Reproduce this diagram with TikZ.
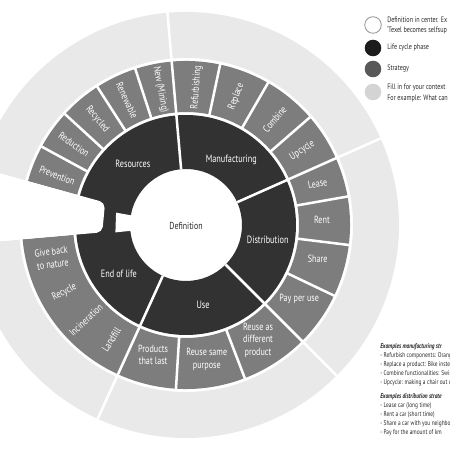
\documentclass[tikz,border=0pt]{standalone}
\usepackage{fontspec}
\setmainfont{PT Sans}[FakeStretch=0.78]
\usetikzlibrary{positioning}
\definecolor{WheelDark}{RGB}{50,50,50}
\definecolor{WheelMid}{RGB}{125,125,125}
\definecolor{WheelLight}{RGB}{233,233,233}
\definecolor{WheelText}{RGB}{40,40,40}
\definecolor{KeyRim}{RGB}{150,150,150}
\definecolor{KeyDark}{RGB}{28,28,28}
\definecolor{KeyMid}{RGB}{88,88,88}
\definecolor{KeyLight}{RGB}{212,212,212}
% annular sector: start angle, end angle, inner radius, outer radius, style
\newcommand{\ringsector}[5]{%
  \fill[#5] (#1:#3) arc[start angle=#1,end angle=#2,radius=#3]
    -- (#2:#4) arc[start angle=#2,end angle=#1,radius=#4] -- cycle;}
\tikzset{
  wheel/cut/.style={draw=white,line width=1.8pt},
  wheel/phase/.style={inner sep=0pt,text=white,align=center,
    font=\fontsize{7.5}{9.2}\selectfont},
  wheel/strategy/.style={inner sep=0pt,text=white,align=center,
    font=\fontsize{7.4}{9.2}\selectfont},
  wheel/center/.style={inner sep=0pt,text=WheelText,font=\fontsize{7.2}{9}\selectfont},
  key/dot/.style={circle,minimum size=16.6*0.709pt,inner sep=0pt},
  key/text/.style={inner sep=0pt,anchor=west,align=left,text=WheelText,
    font=\fontsize{5.6}{7.8}\selectfont},
  key/examples/.style={inner sep=0pt,anchor=north west,align=left,text=WheelText,
    font=\fontsize{4.9}{6.4}\selectfont}
}

\begin{document}
\begin{tikzpicture}[x=0.25mm,y=0.25mm]
  \path[use as bounding box] (0,0) rectangle (450,450);
  \clip (0,0) rectangle (450,450);

  \begin{scope}[shift={(186,225)}]
    % rings
    \ringsector{-175}{164.5}{167}{213}{WheelLight}
    \ringsector{-175}{164.5}{113}{164}{WheelMid}
    \ringsector{0}{360}{56}{110}{WheelDark}
    % gap between end of life and resources
    \fill[white,rounded corners=4] (164.5:84) -- (164.5:230) -- (185:230) -- (185:84) -- cycle;
    \fill[white] (170:50) -- (170:71) -- (186:71) -- (186:50) -- cycle;
    % phase dividers
    \foreach \a in {95,24,-45,-114.5}
      \draw[wheel/cut] (\a:56) -- (\a:213);
    % strategy dividers
    \foreach \a in {151.5,137.5,122.7,108,78,60,41,10,-7,-25.5,-69,-93.5}
      \draw[wheel/cut] (\a:112) -- (\a:165);

    \node[wheel/center] (definition) at (0,-1) {Definition};

    \node[wheel/phase] (resources) at (131:81) {Resources};
    \node[wheel/phase] (manufacturing) at (55:79) {Manufacturing};
    \node[wheel/phase] (distribution) at (-10:83) {Distribution};
    \node[wheel/phase] (use) at (-78:82) {Use};
    \node[wheel/phase] (endoflife) at (216:83) {End of life};

    % resources strategies
    \foreach \txt/\a [count=\i] in {Prevention/159,Reduction/144.3,Recycled/130,
        Renewable/115.3,{New (Mining)}/100.7}
      \node[wheel/strategy,rotate=\a-180] (res\i) at (\a:138) {\txt};
    % manufacturing strategies
    \foreach \txt/\a [count=\i] in {Refurbishing/85.6,Replace/68.6,Combine/50,Upcycle/32.6}
      \node[wheel/strategy,rotate=\a] (man\i) at (\a:138) {\txt};
    % distribution strategies
    \node[wheel/strategy,rotate=10] (lease) at (17.5:138) {Lease};
    \node[wheel/strategy] (rent) at (2:136) {Rent};
    \node[wheel/strategy] (share) at (-14.5:136) {Share};
    \node[wheel/strategy] (payperuse) at (-33:135) {Pay per use};
    % use strategies
    \node[wheel/strategy] (reusediff) at (-58:136) {Reuse as\\different\\product};
    \node[wheel/strategy] (reusesame) at (-81.2:136) {Reuse same\\purpose};
    \node[wheel/strategy] (lasting) at (-104.2:134) {Products\\that last};
    % end of life strategies
    \node[wheel/strategy,rotate=8] (giveback) at (193.8:138) {Give back\\to nature};
    \node[wheel/strategy,rotate=27] (recycle) at (209:139) {Recycle};
    \node[wheel/strategy,rotate=43] (incineration) at (223.5:138) {Incineration};
    \node[wheel/strategy,rotate=57] (landfill) at (237:137) {Landfill};
  \end{scope}

  % legend
  \node[key/dot,draw=KeyRim,line width=0.6pt,fill=white] (key1) at (373,425) {};
  \node[key/dot,fill=KeyDark] (key2) at (373,402) {};
  \node[key/dot,fill=KeyMid] (key3) at (373,381) {};
  \node[key/dot,fill=KeyLight] (key4) at (373,358) {};
  \node[key/text] (keytext1) at (387,424.5) {Definition in center. Ex\\`Texel becomes selfsup};
  \node[key/text] (keytext2) at (387,402) {Life cycle phase};
  \node[key/text] (keytext3) at (387,381) {Strategy};
  \node[key/text] (keytext4) at (387,357) {Fill in for your context\\For example: What can};

  % examples
  \node[key/examples] (manexamples) at (380,107) {\textbf{\textit{Examples manufacturing str}}\\
    - Refurbish components: Orang\\
    - Replace a product: Bike instea\\
    - Combine functionalities: Swis\\
    - Upcycle: making a chair out o};
  \node[key/examples] (distexamples) at (380,57) {\textbf{\textit{Examples distribution strate}}\\
    - Lease car (long time)\\
    - Rent a car (short time)\\
    - Share a car with you neighbo\\
    - Pay for the amount of km};
\end{tikzpicture}
\end{document}
